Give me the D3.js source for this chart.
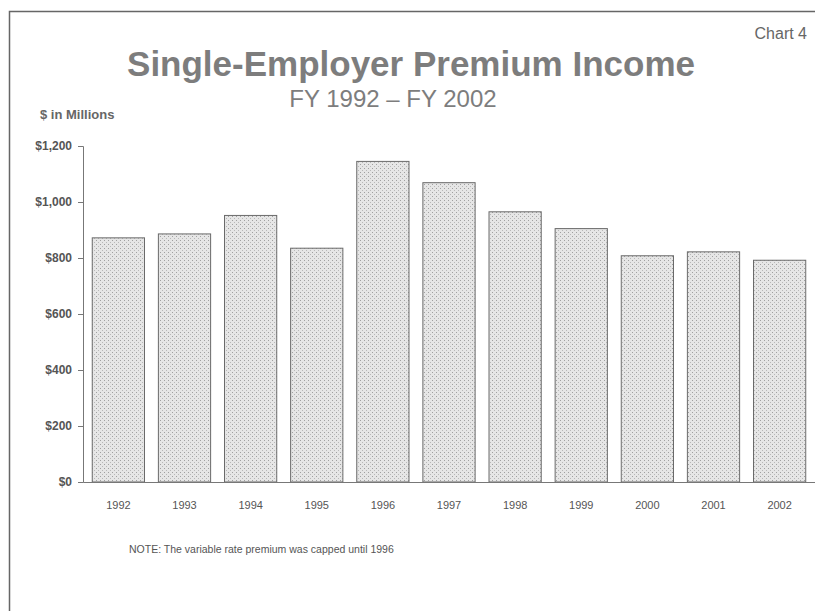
<!DOCTYPE html>
<html><head><meta charset="utf-8">
<script src="https://cdn.jsdelivr.net/npm/d3@7"></script>
<style>body{margin:0;background:#fff;} svg{display:block;font-family:"Liberation Sans",Arial,sans-serif;}</style>
</head><body>
<svg id="c" width="815" height="611"></svg>
<script>
const years = ["1992","1993","1994","1995","1996","1997","1998","1999","2000","2001","2002"];
const premiums = [872, 886, 952, 835, 1145, 1069, 965, 905, 808, 822, 792];
const yTicks = [0, 200, 400, 600, 800, 1000, 1200];
const yTickLabels = ["$0","$200","$400","$600","$800","$1,000","$1,200"];
const titleText = "Single-Employer Premium Income";
const subtitleText = "FY 1992 \u2013 FY 2002";
const unitText = "$ in Millions";
const noteText = "NOTE:  The variable rate premium was capped until 1996";
const chartLabel = "Chart 4";

const svg = d3.select("#c");
const defs = svg.append("defs");
const pat = defs.append("pattern").attr("id","stip").attr("width",4).attr("height",4).attr("patternUnits","userSpaceOnUse");
pat.append("rect").attr("width",4).attr("height",4).attr("fill","#e6e6e6");
pat.append("rect").attr("x",0).attr("y",0).attr("width",1).attr("height",1).attr("fill","#a0a0a0");
pat.append("rect").attr("x",2).attr("y",2).attr("width",1).attr("height",1).attr("fill","#b8b8b8");

// frame
svg.append("path").attr("d","M9.5,611 L9.5,11.5 L815,11.5").attr("fill","none").attr("stroke","#666").attr("stroke-width",1.5);

const x = d3.scaleBand().domain(years).range([83, 815]).paddingInner(0.21).paddingOuter(0.14);
const y = d3.scaleLinear().domain([0, 1200]).range([482, 146]);

svg.append("text").attr("x",807).attr("y",39).attr("text-anchor","end").attr("font-size",16).attr("fill","#666").text(chartLabel);
svg.append("text").attr("x",411).attr("y",76).attr("text-anchor","middle").attr("font-size",35).attr("font-weight","bold").attr("fill","#7d7d7d").text(titleText);
svg.append("text").attr("x",393).attr("y",107).attr("text-anchor","middle").attr("font-size",24).attr("fill","#7d7d7d").text(subtitleText);
svg.append("text").attr("x",40).attr("y",119).attr("font-size",13).attr("font-weight","bold").attr("fill","#666").text(unitText);

svg.selectAll("rect.bar").data(premiums).join("rect").attr("class","bar")
  .attr("x",(d,i)=>x(years[i])).attr("width",x.bandwidth())
  .attr("y",d=>y(d)).attr("height",d=>y(0)-y(d))
  .attr("fill","url(#stip)").attr("stroke","#6a6a6a").attr("stroke-width",1);

const yAxis = d3.axisLeft(y).tickValues(yTicks).tickFormat((d,i)=>yTickLabels[i]).tickSize(5).tickPadding(6);
const ga = svg.append("g").attr("transform","translate(83,0)").call(yAxis);
ga.select(".domain").attr("stroke","#777");
ga.selectAll(".tick line").attr("stroke","#777");
ga.selectAll("text").attr("font-size",12).attr("font-weight","bold").attr("fill","#555").attr("font-family","'Liberation Sans',Arial,sans-serif");

const xAxis = d3.axisBottom(x).tickSize(0).tickPadding(19);
const gx = svg.append("g").attr("transform","translate(0,482)").call(xAxis);
gx.select(".domain").attr("stroke","#777");
gx.selectAll("text").attr("font-size",11).attr("fill","#555").attr("font-family","'Liberation Sans',Arial,sans-serif");

svg.append("text").attr("x",129).attr("y",553).attr("font-size",10.5).attr("fill","#555").text(noteText);
</script>
</body></html>
